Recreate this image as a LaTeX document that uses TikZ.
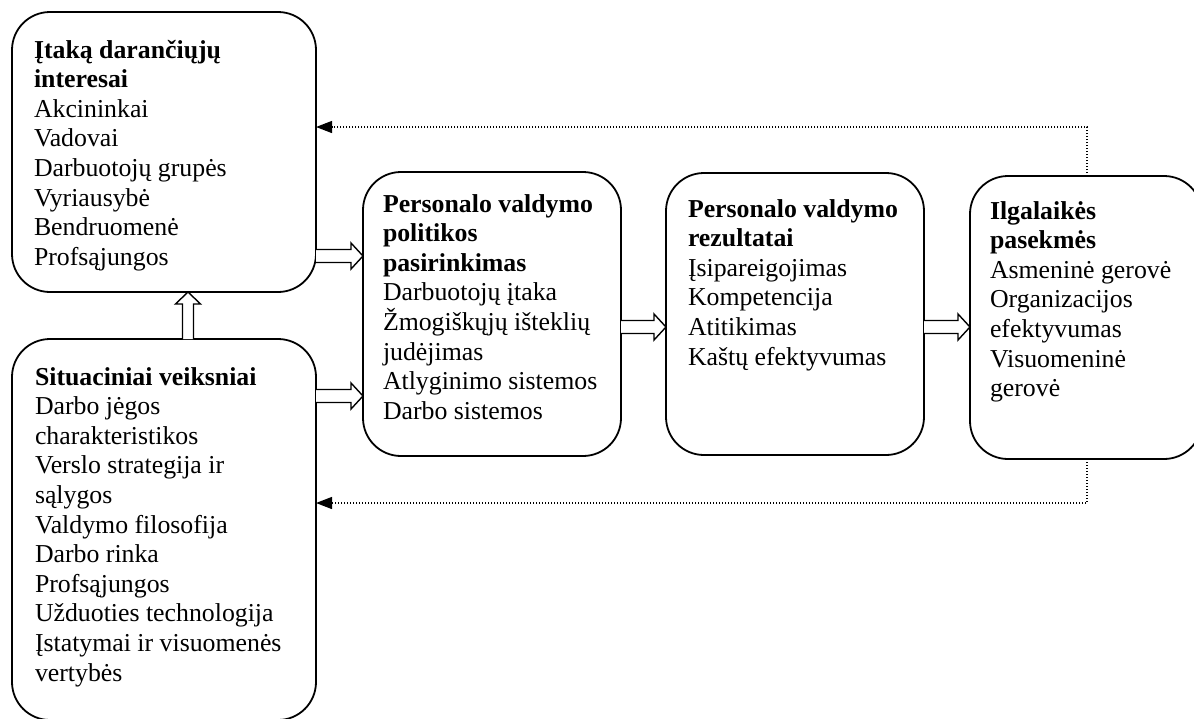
\documentclass[tikz,border=0pt]{standalone}
\usepackage{fontspec}
\setmainfont{Liberation Serif}
\usetikzlibrary{calc,arrows.meta}
\tikzset{
  box/.style={draw, line width=1.8pt, rounded corners=38pt, inner sep=0pt, outer sep=0pt, anchor=north west},
  txt/.style={inner sep=0pt, outer sep=0pt, anchor=base west, font=\fontsize{25.8}{29.6}\selectfont},
  blk/.style={draw, fill=white, line width=1.4pt, line join=miter},
  fb/.style={line width=1.3pt, dash pattern=on 1.2pt off 1.8pt, -{Triangle[length=16pt,width=12pt]}},
}
\newcommand\hblk[2]{\draw[blk] ($(#1)+(0,-6.5)$) -- ($(#2)+(-12,-6.5)$) -- ($(#2)+(-12,-13)$) -- (#2) -- ($(#2)+(-12,13)$) -- ($(#2)+(-12,6.5)$) -- ($(#1)+(0,6.5)$);}
\newcommand\vblk[2]{\draw[blk] ($(#1)+(-5.5,0)$) -- ($(#2)+(-5.5,12)$) -- ($(#2)+(-12.5,12)$) -- (#2) -- ($(#2)+(12.5,12)$) -- ($(#2)+(5.5,12)$) -- ($(#1)+(5.5,0)$);}
\begin{document}
\begin{tikzpicture}[x=1pt,y=-1pt]
\useasboundingbox (0,0) rectangle (1194,718);
\fill[white] (0,0) rectangle (1194,718);
\clip (0,0) rectangle (1194,718);

% boxes
\node[box, minimum width=304pt, minimum height=280pt] (A) at (12,12) {};
\node[box, minimum width=304pt, minimum height=381pt] (B) at (12,339) {};
\node[box, minimum width=258pt, minimum height=284pt] (C) at (363,172) {};
\node[box, minimum width=258pt, minimum height=282pt] (D) at (666,173) {};
\node[box, minimum width=232pt, minimum height=283pt] (E) at (970,176) {};

% texts
\node[txt] (tA) at (34,58) {\parbox[t]{300pt}{\raggedright
  \textbf{Įtaką darančiųjų}\\\textbf{interesai}\\Akcininkai\\Vadovai\\Darbuotojų grupės\\Vyriausybė\\Bendruomenė\\Profsąjungos}};
\node[txt] (tB) at (35,385) {\parbox[t]{300pt}{\raggedright
  \textbf{Situaciniai veiksniai}\\Darbo jėgos\\charakteristikos\\Verslo strategija ir\\sąlygos\\Valdymo filosofija\\Darbo rinka\\Profsąjungos\\Užduoties technologija\\Įstatymai ir visuomenės\\vertybės}};
\node[txt] (tC) at (383,212) {\parbox[t]{260pt}{\raggedright
  \textbf{Personalo valdymo}\\\textbf{politikos}\\\textbf{pasirinkimas}\\Darbuotojų įtaka\\Žmogiškųjų išteklių\\judėjimas\\Atlyginimo sistemos\\Darbo sistemos}};
\node[txt] (tD) at (688,217) {\parbox[t]{260pt}{\raggedright
  \textbf{Personalo valdymo}\\\textbf{rezultatai}\\Įsipareigojimas\\Kompetencija\\Atitikimas\\Kaštų efektyvumas}};
\node[txt] (tE) at (990,219) {\parbox[t]{260pt}{\raggedright
  \textbf{Ilgalaikės}\\\textbf{pasekmės}\\Asmeninė gerovė\\Organizacijos\\efektyvumas\\Visuomeninė\\gerovė}};

% block arrows
\coordinate (a1s) at (A.east |- 0,256);
\coordinate (a1e) at (C.west |- 0,256);
\hblk{a1s}{a1e}
\coordinate (a2s) at (B.east |- 0,396);
\coordinate (a2e) at (C.west |- 0,396);
\hblk{a2s}{a2e}
\coordinate (a3s) at (C.east |- 0,327);
\coordinate (a3e) at (D.west |- 0,327);
\hblk{a3s}{a3e}
\coordinate (a4s) at (D.east |- 0,327);
\coordinate (a4e) at (E.west |- 0,327);
\hblk{a4s}{a4e}
\coordinate (a5s) at (B.north -| 188,0);
\coordinate (a5e) at (A.south -| 188,0);
\vblk{a5s}{a5e}

% feedback dotted connectors
\coordinate (ft) at (1087,127);
\coordinate (fbt) at (1087,503);
\draw[fb] (E.north -| ft) -- (ft) -- (A.east |- ft);
\draw[fb] (E.south -| fbt) -- (fbt) -- (B.east |- fbt);
\end{tikzpicture}
\end{document}
